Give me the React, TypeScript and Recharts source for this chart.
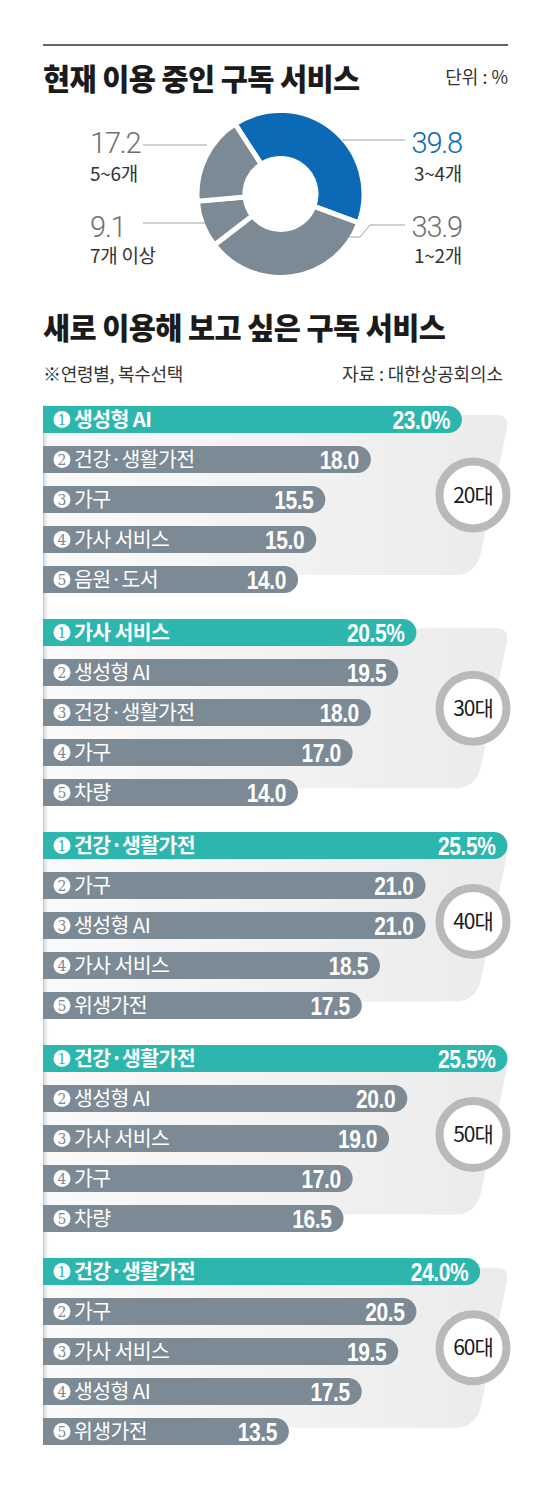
import { PieChart, Pie, Cell, BarChart, Bar, XAxis, YAxis, LabelList } from "recharts";

// 현재 이용 중인 구독 서비스 개수 (단위 %)
const pieNames = ["3~4개", "1~2개", "7개 이상", "5~6개"];
const pieValues = [39.8, 33.9, 9.1, 17.2];

// 새로 이용해 보고 싶은 구독 서비스 (연령별, 복수선택)
const ageGroups = ["20대", "30대", "40대", "50대", "60대"];

const names20 = ["생성형 AI", "건강·생활가전", "가구", "가사 서비스", "음원·도서"];
const values20 = [23.0, 18.0, 15.5, 15.0, 14.0];

const names30 = ["가사 서비스", "생성형 AI", "건강·생활가전", "가구", "차량"];
const values30 = [20.5, 19.5, 18.0, 17.0, 14.0];

const names40 = ["건강·생활가전", "가구", "생성형 AI", "가사 서비스", "위생가전"];
const values40 = [25.5, 21.0, 21.0, 18.5, 17.5];

const names50 = ["건강·생활가전", "생성형 AI", "가사 서비스", "가구", "차량"];
const values50 = [25.5, 20.0, 19.0, 17.0, 16.5];

const names60 = ["건강·생활가전", "가구", "가사 서비스", "생성형 AI", "위생가전"];
const values60 = [24.0, 20.5, 19.5, 17.5, 13.5];

const groupNames = [names20, names30, names40, names50, names60];
const groupValues = [values20, values30, values40, values50, values60];

const KR = '"Noto Sans CJK KR", "Noto Sans", sans-serif';
const NUM = '"Liberation Sans", Arial, sans-serif';
const TEAL = "#2cb6ad";
const GREY = "#7c8a95";
const BLUE = "#0b69b6";

const GROUP_TOP = 398.5;
const GROUP_STEP = 213.2;

// 도넛 라벨 (좌우/상하 위치는 조각 방향으로 결정)
const renderPieLabel = (props: any) => {
  const { midAngle, index, value, name } = props;
  const rad = (midAngle * Math.PI) / 180;
  const right = Math.cos(rad) > 0;
  const upper = Math.sin(rad) > 0;
  const color = index === 0 ? BLUE : "#6f6f6f";
  const vy = upper ? 153 : 237;
  const ny = upper ? 181 : 263;
  const tx = right ? 462 : 90;
  const anchor = right ? "end" : "start";
  let line;
  if (right && upper) line = <polyline points="342,140 405,140" fill="none" stroke="#a0a0a0" strokeWidth={1} />;
  else if (right) line = <polyline points="347,237 360,237 370,225 405,225" fill="none" stroke="#a0a0a0" strokeWidth={1} />;
  else if (upper) line = <polyline points="143,145 207,145" fill="none" stroke="#a0a0a0" strokeWidth={1} />;
  else line = <polyline points="143,223 205,223" fill="none" stroke="#a0a0a0" strokeWidth={1} />;
  return (
    <g>
      {line}
      <text x={tx} y={vy} textAnchor={anchor} fontSize={29} fontWeight={300} fill={color} fontFamily='Roboto, "Liberation Sans", sans-serif' letterSpacing={-1.2}>
        {Number(value).toFixed(1)}
      </text>
      <text x={tx} y={ny} textAnchor={anchor} fontSize={19} fill="#333" fontFamily={KR} letterSpacing={-0.3}>
        {name}
      </text>
    </g>
  );
};

const makeNameLabel = (names: string[]) => (props: any) => {
  const { y, height, value } = props;
  const i = names.indexOf(value);
  const cy = y + height / 2;
  const barColor = i === 0 ? TEAL : GREY;
  return (
    <g>
      <circle cx={62} cy={cy} r={8.5} fill="#fff" />
      <text x={62} y={cy + 5} textAnchor="middle" fontSize={14} fill={barColor} fontFamily='"DejaVu Serif", serif'>
        {i + 1}
      </text>
      <text x={74} y={cy + 7.5} fontSize={20.5} fontWeight={i === 0 ? 700 : 400} fill="#fff" fontFamily={KR} letterSpacing={-0.6}>
        {value}
      </text>
    </g>
  );
};

const makeValueLabel = (values: number[]) => (props: any) => {
  const { x, y, width, height, value, index } = props;
  const first = index === 0 || (index === undefined && value === values[0]);
  return (
    <text
      transform={`translate(${x + width - 12}, ${y + height / 2 + 9}) scale(0.84, 1)`}
      textAnchor="end"
      fontSize={25}
      fontWeight={700}
      fill="#fff"
      fontFamily={NUM}
      letterSpacing={-0.5}
    >
      {Number(value).toFixed(1) + (first ? "%" : "")}
    </text>
  );
};

function AgeBars({ names, values }: { names: string[]; values: number[] }) {
  const data = names.map((name, i) => ({ name, value: values[i] }));
  return (
    <BarChart width={560} height={200} data={data} layout="vertical" margin={{ top: 0, right: 7, bottom: 0, left: 43 }}>
      <XAxis type="number" domain={[0, 28]} hide />
      <YAxis type="category" dataKey="name" hide />
      <Bar dataKey="value" barSize={27} radius={[0, 13.5, 13.5, 0]} isAnimationActive={false}>
        {data.map((d, i) => (
          <Cell key={d.name} fill={i === 0 ? TEAL : GREY} />
        ))}
        <LabelList dataKey="name" content={makeNameLabel(names)} />
        <LabelList dataKey="value" content={makeValueLabel(values)} />
      </Bar>
    </BarChart>
  );
}

export default function App() {
  const pieData = pieNames.map((name, i) => ({ name, value: pieValues[i] }));
  return (
    <div style={{ position: "absolute", left: 0, top: 0, width: 560, height: 1503, background: "#fff", fontFamily: KR, overflow: "hidden" }}>
      <svg width={560} height={1503} style={{ position: "absolute", left: 0, top: 0 }} fontFamily={KR}>
        <defs>
          <linearGradient id="panelGrad" x1="0" x2="1" y1="0" y2="0">
            <stop offset="0" stopColor="#fafafa" />
            <stop offset="1" stopColor="#ebebeb" />
          </linearGradient>
          <linearGradient id="edgeGrad" x1="0" x2="1" y1="0" y2="0">
            <stop offset="0" stopColor="#c8c8c8" />
            <stop offset="1" stopColor="#ffffff" stopOpacity={0} />
          </linearGradient>
        </defs>
        <line x1={43} x2={508} y1={45} y2={45} stroke="#333" strokeWidth={1.5} />
        <text x={43} y={90} fontSize={29.5} fontWeight={900} fill="#1b1b1b" letterSpacing={-0.6}>
          현재 이용 중인 구독 서비스
        </text>
        <text x={508} y={84} textAnchor="end" fontSize={18} fill="#333">
          단위 : %
        </text>
        <text x={43} y={339} fontSize={29.5} fontWeight={900} fill="#1b1b1b" letterSpacing={-0.6}>
          새로 이용해 보고 싶은 구독 서비스
        </text>
        <text x={43} y={381} fontSize={18} fill="#333" letterSpacing={-0.3}>
          ※연령별, 복수선택
        </text>
        <text x={503} y={381} textAnchor="end" fontSize={18} fill="#333" letterSpacing={-0.1}>
          자료 : 대한상공회의소
        </text>
        {ageGroups.map((age, g) => {
          const top = GROUP_TOP + g * GROUP_STEP;
          const T = top + 16.5;
          const B = top + 176.5;
          const cy = top + 96.5;
          return (
            <g key={age}>
              <path
                d={`M43 ${T} L496 ${T} Q509 ${T} 507 ${T + 13} L481 ${B - 22} Q476 ${B} 455 ${B} L43 ${B} Z`}
                fill="url(#panelGrad)"
              />
              <circle cx={473} cy={cy} r={33.5} fill="#fff" stroke="#b9b9b9" strokeWidth={8} />
              <text x={473} y={cy + 7.5} textAnchor="middle" fontSize={21} fill="#1a1a1a" letterSpacing={-1}>
                {age}
              </text>
            </g>
          );
        })}
        <rect x={43} y={405} width={7} height={1040} fill="url(#edgeGrad)" />
      </svg>

      <div style={{ position: "absolute", left: 0, top: 0 }}>
        <PieChart width={560} height={290}>
          <Pie
            data={pieData}
            dataKey="value"
            nameKey="name"
            cx={275.5}
            cy={189}
            innerRadius={35.5}
            outerRadius={83.5}
            startAngle={123}
            endAngle={-237}
            stroke="#fff"
            strokeWidth={5}
            label={renderPieLabel}
            labelLine={false}
            isAnimationActive={false}
          >
            {pieData.map((d, i) => (
              <Cell key={d.name} fill={i === 0 ? BLUE : GREY} />
            ))}
          </Pie>
        </PieChart>
      </div>

      {ageGroups.map((age, g) => (
        <div key={age} style={{ position: "absolute", left: 0, top: GROUP_TOP + g * GROUP_STEP }}>
          <AgeBars names={groupNames[g]} values={groupValues[g]} />
        </div>
      ))}
    </div>
  );
}
